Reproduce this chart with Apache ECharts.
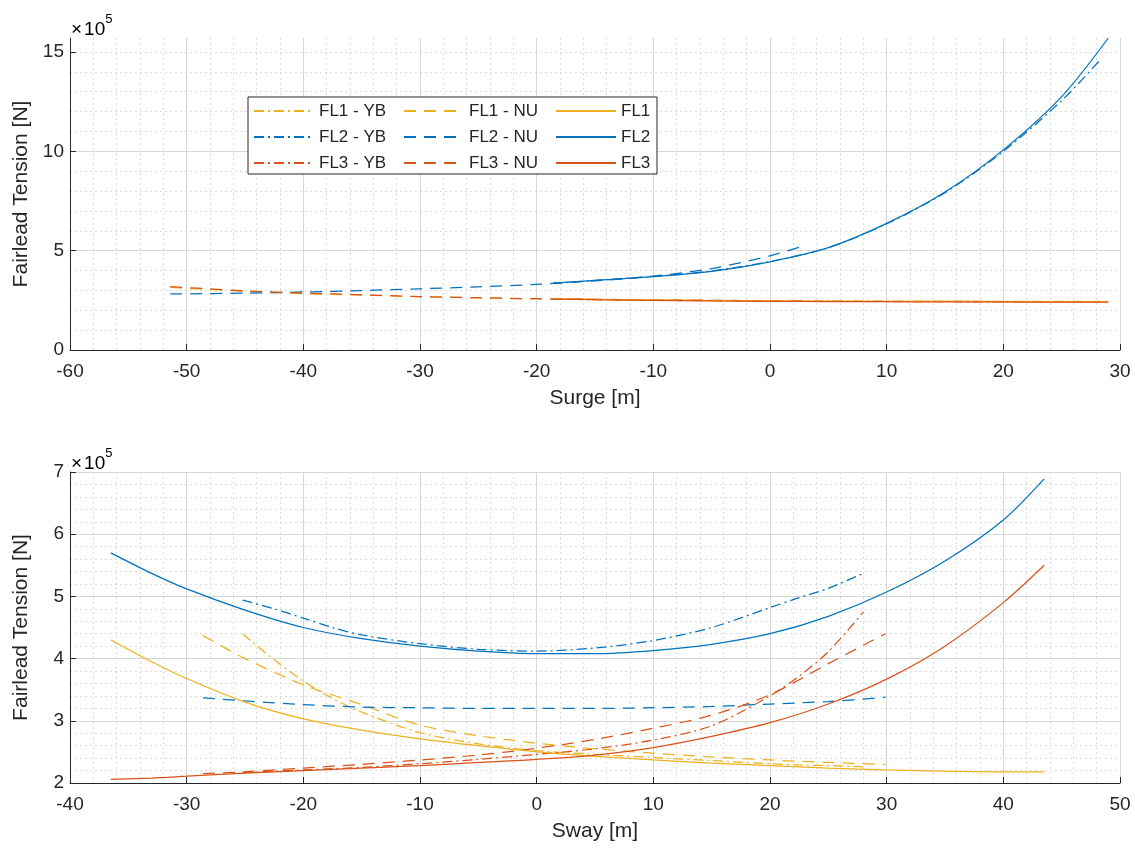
<!DOCTYPE html>
<html>
<head>
<meta charset="utf-8">
<script src="https://cdn.jsdelivr.net/npm/echarts@6/dist/echarts.min.js"></script>
<style>
  html, body { margin: 0; padding: 0; background: #fff; }
  #chart { width: 1135px; height: 849px; }
</style>
</head>
<body>
<div id="chart"></div>
<script>
// Fairlead tension of the three mooring lines versus platform offset.
// Tensions are given in units of 1e5 N, offsets in metres.

// ---------- Surge sweep ----------
const surgeNuX    = [-51.4, -45, -40, -35, -30, -25, -20, -15, -10, -5, 0, 3.1];
const surgeFL1_NU = [3.15, 2.95, 2.84, 2.76, 2.68, 2.62, 2.57, 2.54, 2.51, 2.49, 2.47, 2.46];
const surgeFL2_NU = [2.82, 2.86, 2.92, 2.99, 3.08, 3.18, 3.30, 3.48, 3.72, 4.10, 4.74, 5.28];
const surgeFL3_NU = [3.19, 2.98, 2.86, 2.78, 2.69, 2.63, 2.58, 2.55, 2.52, 2.50, 2.48, 2.47];

const surgeYbX    = [-18.6, -15, -10, -5, 0, 5, 10, 15, 20, 25, 28.3];
const surgeFL1_YB = [2.58, 2.55, 2.52, 2.50, 2.48, 2.47, 2.46, 2.46, 2.45, 2.45, 2.45];
const surgeFL2_YB = [3.36, 3.50, 3.70, 3.98, 4.45, 5.15, 6.35, 7.92, 10.0, 12.55, 14.6];
const surgeFL3_YB = [2.56, 2.53, 2.50, 2.48, 2.46, 2.45, 2.44, 2.43, 2.42, 2.42, 2.42];

const surgeX      = [-18.6, -15, -10, -5, 0, 5, 10, 15, 20, 25, 29.0];
const surgeFL1    = [2.58, 2.55, 2.52, 2.49, 2.47, 2.46, 2.45, 2.45, 2.44, 2.44, 2.44];
const surgeFL2    = [3.36, 3.50, 3.69, 3.96, 4.44, 5.15, 6.37, 7.95, 10.07, 12.75, 15.70];
const surgeFL3    = [2.56, 2.53, 2.50, 2.47, 2.45, 2.44, 2.43, 2.42, 2.42, 2.41, 2.41];

// ---------- Sway sweep ----------
const swayNuX     = [-28.6, -25, -20, -15, -10, -5, 0, 5, 10, 15, 20, 25, 29.9];
const swayFL1_NU  = [4.37, 4.00, 3.58, 3.26, 2.93, 2.76, 2.64, 2.55, 2.48, 2.42, 2.37, 2.33, 2.30];
const swayFL2_NU  = [3.37, 3.32, 3.26, 3.22, 3.21, 3.20, 3.20, 3.20, 3.21, 3.23, 3.27, 3.31, 3.38];
const swayFL3_NU  = [2.15, 2.18, 2.24, 2.30, 2.37, 2.45, 2.56, 2.70, 2.88, 3.09, 3.42, 3.92, 4.40];

const swayYbX     = [-25.2, -22.5, -20, -17.5, -15, -10, -5, 0, 5, 10, 15, 20, 22.5, 25, 28.0];
const swayFL1_YB  = [4.40, 3.98, 3.64, 3.36, 3.14, 2.81, 2.63, 2.52, 2.46, 2.41, 2.36, 2.31, 2.29, 2.28, 2.26];
const swayFL2_YB  = [4.94, 4.80, 4.65, 4.50, 4.38, 4.24, 4.15, 4.12, 4.17, 4.29, 4.50, 4.82, 4.98, 5.13, 5.37];
const swayFL3_YB  = [2.17, 2.19, 2.21, 2.23, 2.25, 2.31, 2.38, 2.46, 2.55, 2.69, 2.92, 3.40, 3.72, 4.11, 4.75];

const swayX       = [-36.5, -33, -30, -25, -20, -15, -10, -5, 0, 5, 10, 15, 20, 25, 30, 35, 40, 43.5];
const swayFL1     = [4.30, 3.95, 3.68, 3.30, 3.03, 2.85, 2.71, 2.60, 2.50, 2.43, 2.37, 2.32, 2.28, 2.24, 2.21, 2.19, 2.18, 2.18];
const swayFL2     = [5.70, 5.37, 5.12, 4.78, 4.50, 4.32, 4.20, 4.12, 4.08, 4.08, 4.13, 4.23, 4.40, 4.68, 5.07, 5.57, 6.23, 6.89];
const swayFL3     = [2.06, 2.08, 2.11, 2.16, 2.20, 2.24, 2.28, 2.33, 2.38, 2.45, 2.57, 2.75, 2.97, 3.27, 3.67, 4.20, 4.90, 5.50];

// ---------- Axis ticks ----------
const surgeTicks   = [-60, -50, -40, -30, -20, -10, 0, 10, 20, 30];
const surgeTension = [0, 5, 10, 15];
const swayTicks    = [-40, -30, -20, -10, 0, 10, 20, 30, 40, 50];
const swayTension  = [2, 3, 4, 5, 6, 7];

const legendYB = ['FL1 - YB', 'FL2 - YB', 'FL3 - YB'];
const legendNU = ['FL1 - NU', 'FL2 - NU', 'FL3 - NU'];
const legendSolid = ['FL1', 'FL2', 'FL3'];

// ---------- Styling ----------
const FONT = "'Liberation Sans', Arial, Helvetica, sans-serif";
const INK = '#262626';
const COLORS = { FL1: '#EDB120', FL2: '#0072BD', FL3: '#D95319' };
const DASH = [12, 8];
const DASH_DOT = [10, 4, 2, 4];

// top of the surge panel sits at the highest tension reached
const surgeMax = Math.max(...surgeFL1_NU, ...surgeFL2_NU, ...surgeFL3_NU,
                          ...surgeFL1_YB, ...surgeFL2_YB, ...surgeFL3_YB,
                          ...surgeFL1, ...surgeFL2, ...surgeFL3);

function pairs(xs, ys) { return xs.map((x, i) => [x, ys[i]]); }

function curve(name, line, xs, ys, panel, dash) {
  return {
    type: 'line',
    name: name,
    xAxisIndex: panel,
    yAxisIndex: panel === 0 ? 0 : 2,
    data: pairs(xs, ys),
    symbol: 'none',
    smooth: 0.3,
    clip: true,
    lineStyle: { color: COLORS[line], width: 1.25, type: dash },
    itemStyle: { color: COLORS[line] },
    emphasis: { disabled: true },
    animation: false
  };
}

const series = [
  curve('FL1 - YB', 'FL1', surgeYbX, surgeFL1_YB, 0, DASH_DOT),
  curve('FL2 - YB', 'FL2', surgeYbX, surgeFL2_YB, 0, DASH_DOT),
  curve('FL3 - YB', 'FL3', surgeYbX, surgeFL3_YB, 0, DASH_DOT),
  curve('FL1 - NU', 'FL1', surgeNuX, surgeFL1_NU, 0, DASH),
  curve('FL2 - NU', 'FL2', surgeNuX, surgeFL2_NU, 0, DASH),
  curve('FL3 - NU', 'FL3', surgeNuX, surgeFL3_NU, 0, DASH),
  curve('FL1', 'FL1', surgeX, surgeFL1, 0, 'solid'),
  curve('FL2', 'FL2', surgeX, surgeFL2, 0, 'solid'),
  curve('FL3', 'FL3', surgeX, surgeFL3, 0, 'solid'),

  curve('FL1 - YB', 'FL1', swayYbX, swayFL1_YB, 1, DASH_DOT),
  curve('FL2 - YB', 'FL2', swayYbX, swayFL2_YB, 1, DASH_DOT),
  curve('FL3 - YB', 'FL3', swayYbX, swayFL3_YB, 1, DASH_DOT),
  curve('FL1 - NU', 'FL1', swayNuX, swayFL1_NU, 1, DASH),
  curve('FL2 - NU', 'FL2', swayNuX, swayFL2_NU, 1, DASH),
  curve('FL3 - NU', 'FL3', swayNuX, swayFL3_NU, 1, DASH),
  curve('FL1', 'FL1', swayX, swayFL1, 1, 'solid'),
  curve('FL2', 'FL2', swayX, swayFL2, 1, 'solid'),
  curve('FL3', 'FL3', swayX, swayFL3, 1, 'solid')
];

const majorGrid = { show: true, lineStyle: { color: '#d6d6d6', width: 1, type: 'solid' } };
const minorGrid = { show: true, lineStyle: { color: '#dcdcdc', width: 1, type: [2, 3] } };

function xAxis(panel, ticks, title) {
  return {
    type: 'value',
    gridIndex: panel,
    min: ticks[0],
    max: ticks[ticks.length - 1],
    interval: ticks[1] - ticks[0],
    name: title,
    nameLocation: 'middle',
    nameGap: 38,
    nameTextStyle: { fontFamily: FONT, fontSize: 21, color: INK },
    axisLine: { show: true, onZero: false, lineStyle: { color: INK, width: 1 } },
    axisTick: { show: true, inside: true, length: 6, lineStyle: { color: INK } },
    axisLabel: { fontFamily: FONT, fontSize: 19, color: INK, margin: 12 },
    splitLine: majorGrid,
    minorTick: { show: false, splitNumber: 5 },
    minorSplitLine: minorGrid
  };
}

const yName = {
  name: 'Fairlead Tension [N]',
  nameLocation: 'middle',
  nameGap: 38,
  nameTextStyle: { fontFamily: FONT, fontSize: 21, color: INK }
};

const yAxes = [
  Object.assign({
    type: 'value',
    gridIndex: 0,
    min: surgeTension[0],
    max: surgeMax,
    interval: surgeTension[1] - surgeTension[0],
    axisLine: { show: true, onZero: false, lineStyle: { color: INK, width: 1 } },
    axisTick: { show: true, inside: true, length: 6, lineStyle: { color: INK }, customValues: surgeTension },
    axisLabel: { fontFamily: FONT, fontSize: 19, color: INK, margin: 6, customValues: surgeTension },
    splitLine: Object.assign({ showMaxLine: false }, majorGrid),
    minorSplitLine: { show: false }
  }, yName),
  {
    // fine grid of the surge panel, one line per 1e5 N
    type: 'value',
    gridIndex: 0,
    position: 'right',
    min: surgeTension[0],
    max: surgeMax,
    interval: (surgeTension[1] - surgeTension[0]) / 5,
    axisLine: { show: false },
    axisTick: { show: false },
    axisLabel: { show: false },
    splitLine: Object.assign({ showMaxLine: false, showMinLine: false }, minorGrid)
  },
  Object.assign({
    type: 'value',
    gridIndex: 1,
    min: swayTension[0],
    max: swayTension[swayTension.length - 1],
    interval: swayTension[1] - swayTension[0],
    axisLine: { show: true, onZero: false, lineStyle: { color: INK, width: 1 } },
    axisTick: { show: true, inside: true, length: 6, lineStyle: { color: INK } },
    axisLabel: { fontFamily: FONT, fontSize: 19, color: INK, margin: 6 },
    splitLine: majorGrid,
    minorTick: { show: false, splitNumber: 5 },
    minorSplitLine: minorGrid
  }, yName)
];

function legendColumn(left, names) {
  return {
    orient: 'vertical',
    left: left,
    top: 102,
    padding: 0,
    itemGap: 8,
    itemWidth: 60,
    itemHeight: 14,
    selectedMode: false,
    data: names,
    // line samples only, no marker in the middle
    itemStyle: { opacity: 0 },
    textStyle: { fontFamily: FONT, fontSize: 17, color: INK, lineHeight: 18 }
  };
}

function exponentLabel(x, y) {
  return {
    type: 'text',
    left: x,
    top: y,
    z: 5,
    style: {
      text: '{a|×}{b|10}{c|5}',
      rich: {
        a: { fontFamily: FONT, fontSize: 19, color: '#666', lineHeight: 26, verticalAlign: 'bottom', padding: [0, 2, 0, 0] },
        b: { fontFamily: FONT, fontSize: 19, color: INK, lineHeight: 26, verticalAlign: 'bottom' },
        c: { fontFamily: FONT, fontSize: 13, color: INK, lineHeight: 14, verticalAlign: 'top' }
      }
    }
  };
}

const option = {
  backgroundColor: '#ffffff',
  animation: false,
  textStyle: { fontFamily: FONT },
  grid: [
    { left: 70, right: 15, top: 38, height: 312, containLabel: false },
    { left: 70, right: 15, top: 472, height: 311, containLabel: false }
  ],
  xAxis: [xAxis(0, surgeTicks, 'Surge [m]'), xAxis(1, swayTicks, 'Sway [m]')],
  yAxis: yAxes,
  legend: [
    legendColumn(253, legendYB),
    legendColumn(403, legendNU),
    legendColumn(555, legendSolid)
  ],
  graphic: {
    elements: [
      {
        type: 'rect',
        z: 3,
        shape: { x: 248, y: 97, width: 409, height: 77 },
        style: { fill: '#ffffff', stroke: INK, lineWidth: 1 }
      },
      exponentLabel(71, 13),
      exponentLabel(71, 447)
    ]
  },
  series: series
};

const chart = echarts.init(document.getElementById('chart'), null, { renderer: 'canvas' });
chart.setOption(option);
</script>
</body>
</html>
